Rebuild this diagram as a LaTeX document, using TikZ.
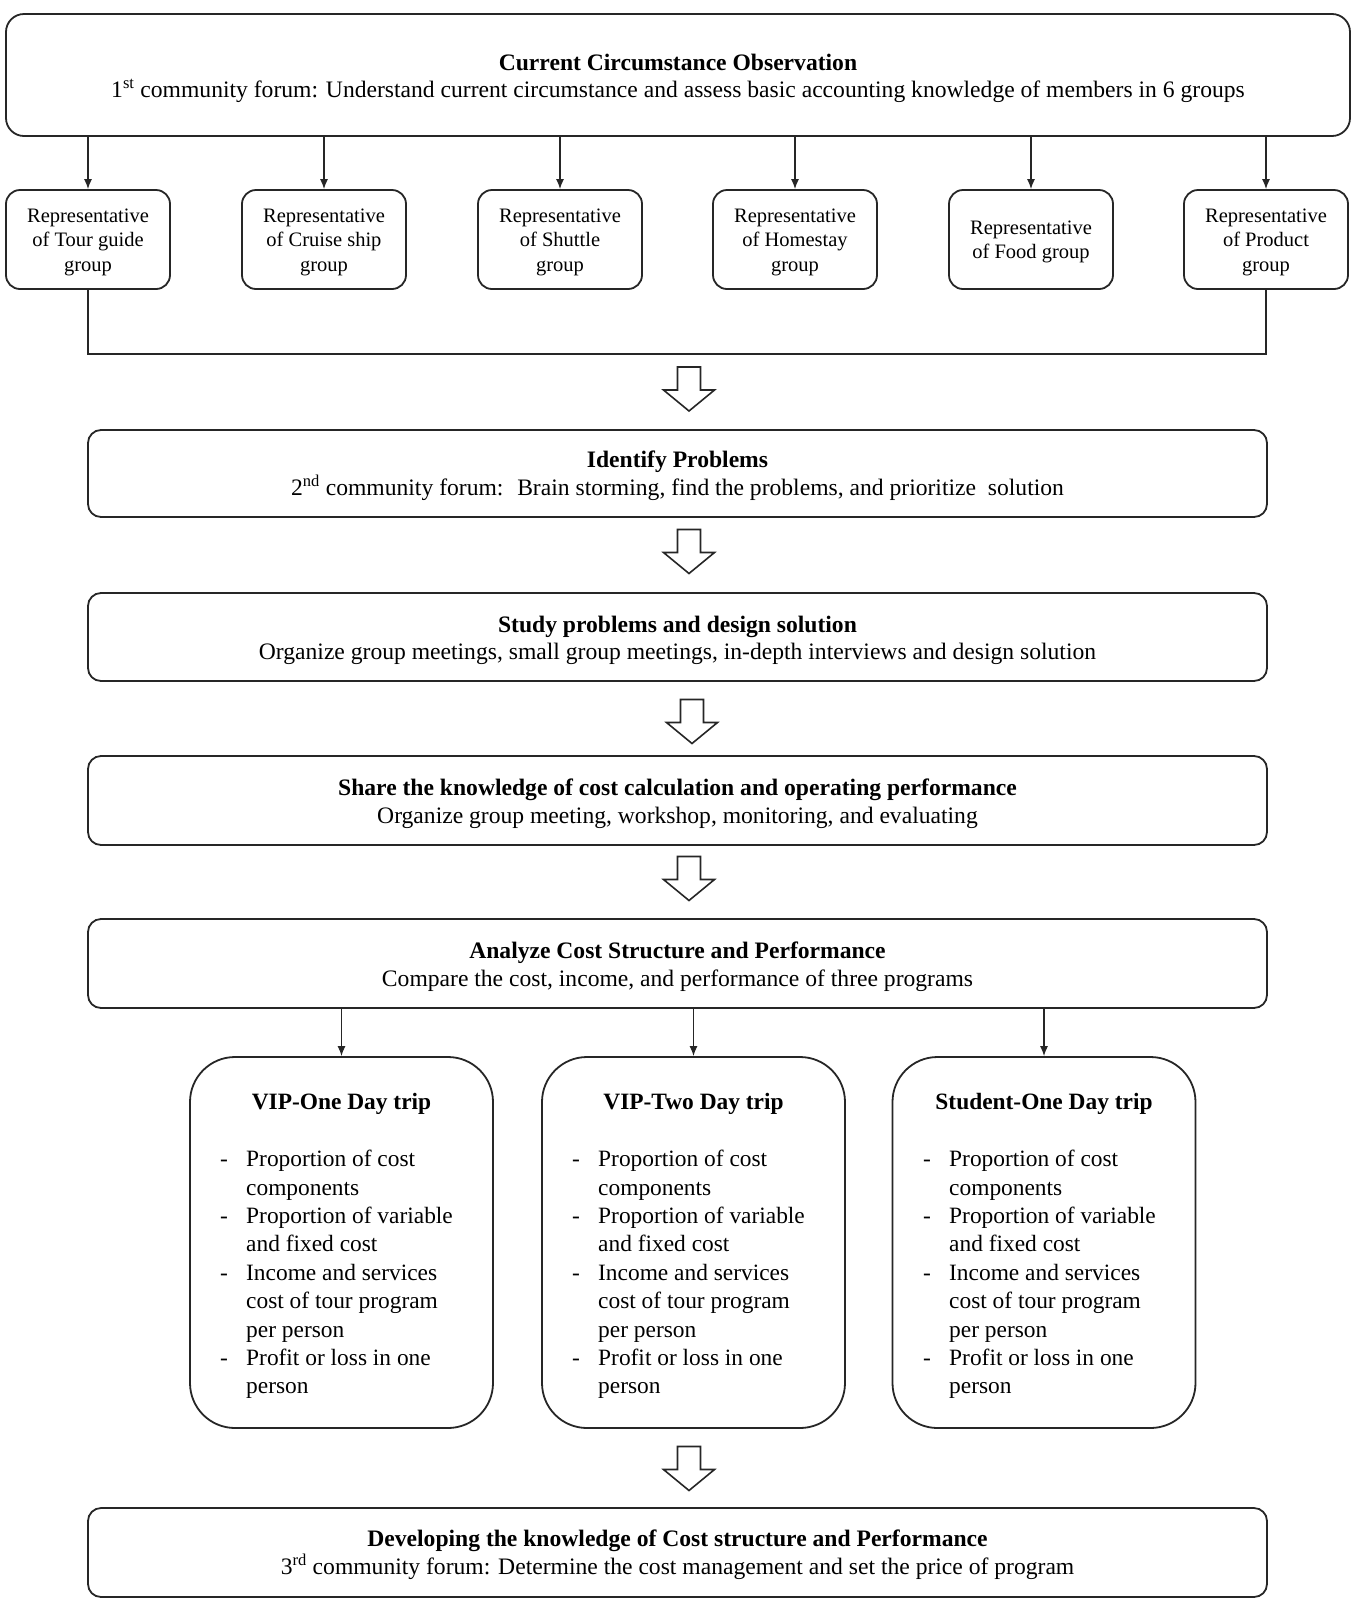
\documentclass[tikz,border=0pt]{standalone}
\usepackage{fontspec}
\setmainfont{Liberation Serif}
\usetikzlibrary{arrows.meta}
\newcommand\maintxt{\fontsize{23.6}{27.4}\selectfont}
\newcommand\reptxt{\fontsize{20.5}{24.5}\selectfont}
\newcommand\progtxt{\fontsize{23.4}{28.4}\selectfont}
\newcommand\lift[1]{\rule{0pt}{#1pt}}
\begin{document}
\begin{tikzpicture}[x=1pt,y=-1pt,
  mainbox/.style={draw=black!85, line width=1.8pt, rounded corners=13pt, minimum width=1179pt, minimum height=87pt, align=center, inner sep=0pt, font=\maintxt},
  repbox/.style={draw=black!85, line width=1.8pt, rounded corners=14pt, minimum width=164pt, minimum height=99pt, align=center, inner sep=0pt, font=\reptxt},
  progbox/.style={draw=black!85, line width=1.8pt, rounded corners=45pt, minimum width=303pt, minimum height=371pt, inner sep=0pt},
  progtitle/.style={font=\progtxt\bfseries, inner sep=0pt},
  proglist/.style={anchor=north west, align=left, inner sep=0pt, font=\progtxt},
  conn/.style={draw=black!85, line width=1.3pt},
  arr/.style={conn, -{Latex[length=10pt,width=8pt]}},
  blockarrow/.pic={\draw[line width=1.6pt, draw=black!85, line join=miter] (-11.5,-22) -- (11.5,-22) -- (11.5,1) -- (25.5,1) -- (0,22) -- (-25.5,1) -- (-11.5,1) -- cycle;}
]
\useasboundingbox (0,0) rectangle (1369,1599);

% top box
\node[mainbox, minimum width=1344pt, minimum height=122pt, rounded corners=18pt] (top) at (678,75)
  {\lift{23.5}\textbf{Current Circumstance Observation}\\1\textsuperscript{st} community forum: Understand current circumstance and assess basic accounting knowledge of members in 6 groups};

% representative boxes
\node[repbox] (r1) at (88,239.5) {\lift{18.5}Representative\\of Tour guide\\group};
\node[repbox] (r2) at (324,239.5) {\lift{18.5}Representative\\of Cruise ship\\group};
\node[repbox] (r3) at (560,239.5) {\lift{18.5}Representative\\of Shuttle\\group};
\node[repbox] (r4) at (795,239.5) {\lift{18.5}Representative\\of Homestay\\group};
\node[repbox] (r5) at (1031,239.5) {\lift{18.5}Representative\\of Food group};
\node[repbox] (r6) at (1266,239.5) {\lift{18.5}Representative\\of Product\\group};

\foreach \r in {r1,r2,r3,r4,r5,r6}
  \draw[arr] (top.south -| \r.north) -- (\r.north);

\coordinate (join) at (0,354);
\draw[conn] (r1.south) -- (r1.south |- join) -- (r6.south |- join) -- (r6.south);

\pic at (689,389) {blockarrow};

\node[mainbox] (b2) at (677.5,473.5)
  {\lift{21}\textbf{Identify Problems}\\2\textsuperscript{nd} community forum:~ Brain storming, find the problems, and prioritize~ solution};

\pic at (689,551.5) {blockarrow};

\node[mainbox, minimum height=88pt] (b3) at (677.5,637)
  {\lift{22.5}\textbf{Study problems and design solution}\\Organize group meetings, small group meetings, in-depth interviews and design solution};

\pic at (692,721.5) {blockarrow};

\node[mainbox, minimum height=89pt] (b4) at (677.5,800.5)
  {\lift{23}\textbf{Share the knowledge of cost calculation and operating performance}\\Organize group meeting, workshop, monitoring, and evaluating};

\pic at (689,878.5) {blockarrow};

\node[mainbox, minimum height=89pt] (b5) at (677.5,963.5)
  {\lift{23}\textbf{Analyze Cost Structure and Performance}\\Compare the cost, income, and performance of three programs};

% program boxes
\node[progbox] (p1) at (341.5,1242.5) {};
\node[progbox] (p2) at (693.5,1242.5) {};
\node[progbox] (p3) at (1044,1242.5) {};

\foreach \p in {p1,p2,p3}
  \draw[arr] (b5.south -| \p.north) -- (\p.north);

\node[progtitle] (p1t) at (341.5,1104) {VIP-One Day trip};
\node[progtitle] (p2t) at (693.5,1104) {VIP-Two Day trip};
\node[progtitle] (p3t) at (1044,1104) {Student-One Day trip};

\newcommand\proglines{\makebox[26pt][l]{-}Proportion of cost\\
\hspace*{26pt}components\\
\makebox[26pt][l]{-}Proportion of variable\\
\hspace*{26pt}and fixed cost\\
\makebox[26pt][l]{-}Income and services\\
\hspace*{26pt}cost of tour program\\
\hspace*{26pt}per person\\
\makebox[26pt][l]{-}Profit or loss in one\\
\hspace*{26pt}person}

\node[proglist] (p1l) at (220,1150) {\proglines};
\node[proglist] (p2l) at (572,1150) {\proglines};
\node[proglist] (p3l) at (923,1150) {\proglines};

\pic at (689,1468.5) {blockarrow};

\node[mainbox, minimum height=89pt] (b6) at (677.5,1552.5)
  {\lift{21}\textbf{Developing the knowledge of Cost structure and Performance}\\3\textsuperscript{rd} community forum: Determine the cost management and set the price of program};

\end{tikzpicture}
\end{document}
